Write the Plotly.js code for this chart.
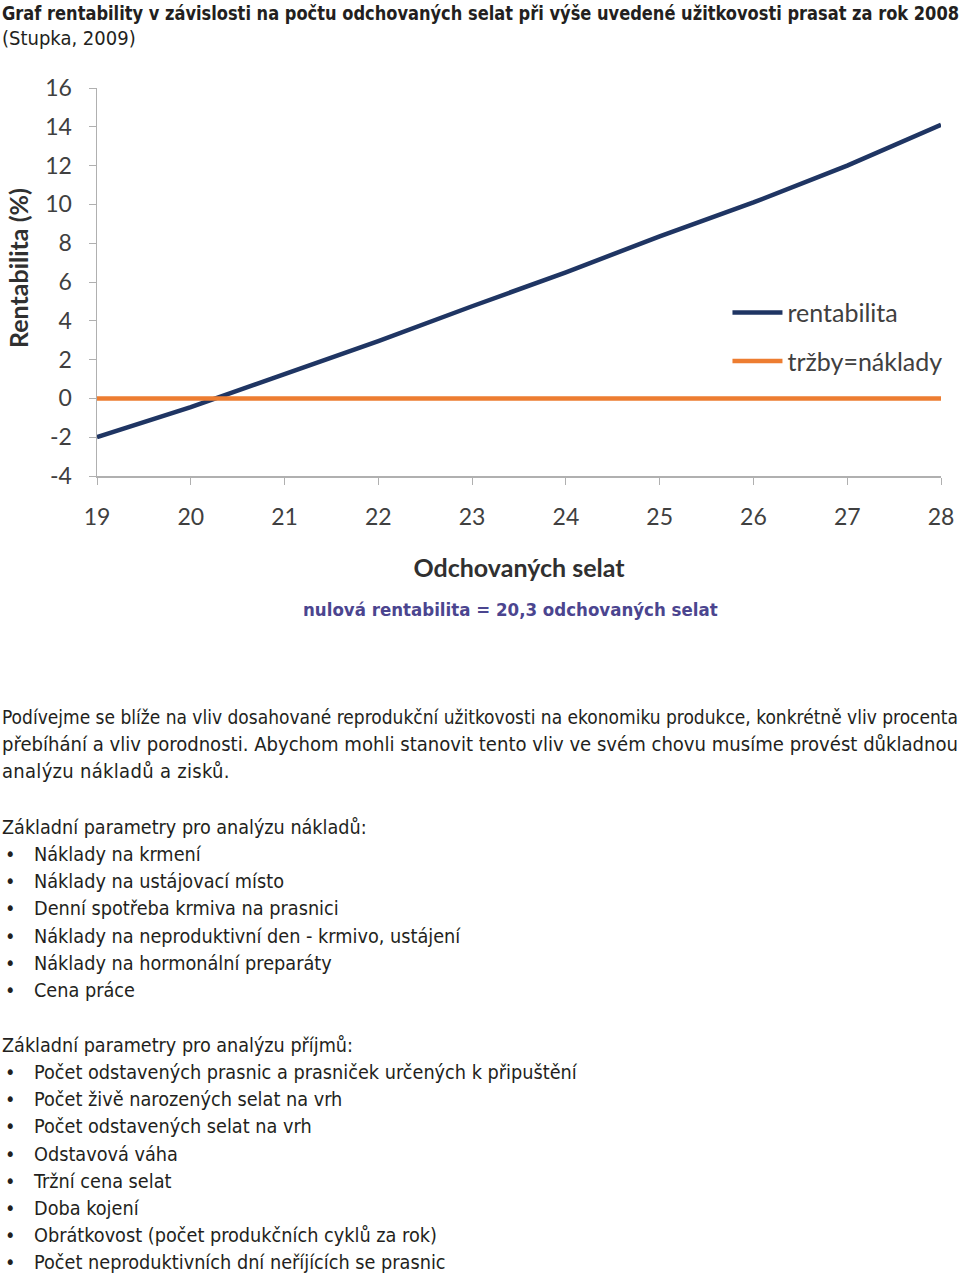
<!DOCTYPE html>
<html><head><meta charset="utf-8">
<script src="https://cdn.plot.ly/plotly-3.0.1.min.js"></script>
<style>
html,body{margin:0;padding:0;background:#fff;width:960px;height:1278px;overflow:hidden;}
body{position:relative;font-family:"DejaVu Sans Condensed","Liberation Sans Narrow",sans-serif;color:#231f20;}
.t{position:absolute;left:2px;white-space:nowrap;font-size:20px;line-height:27px;transform-origin:0 50%;}
#title1{top:0px;font-weight:bold;}
#title2{top:25px;}
ul{position:absolute;left:0;margin:0;padding:0;list-style:none;font-size:19.7px;line-height:27.2px;}
ul li{position:relative;padding-left:34px;white-space:nowrap;}
ul li:before{content:"•";position:absolute;left:5px;}
#chart{position:absolute;left:0;top:0;width:960px;height:640px;}
</style></head>
<body>
<div id="chart"></div>
<div class="t" id="title1" data-w="957">Graf rentability v závislosti na počtu odchovaných selat při výše uvedené užitkovosti prasat za rok 2008</div>
<div class="t" id="title2">(Stupka, 2009)</div>
<div class="t" style="top:704px" data-w="956">Podívejme se blíže na vliv dosahované reprodukční užitkovosti na ekonomiku produkce, konkrétně vliv procenta</div>
<div class="t" style="top:731px" data-w="956">přebíhání a vliv porodnosti. Abychom mohli stanovit tento vliv ve svém chovu musíme provést důkladnou</div>
<div class="t" style="top:758px;letter-spacing:0.3px">analýzu nákladů a zisků.</div>
<div class="t" style="top:814px;font-size:19.6px">Základní parametry pro analýzu nákladů:</div>
<ul id="l1" style="top:841px"></ul>
<div class="t" style="top:1032px;font-size:19.6px">Základní parametry pro analýzu příjmů:</div>
<ul id="l2" style="top:1059px"></ul>
<script>
// ---- data ----
const selata = [19, 20, 21, 22, 23, 24, 25, 26, 27, 28];
const rentabilita = [-2.0, -0.45, 1.25, 2.95, 4.75, 6.5, 8.35, 10.1, 12.0, 14.1];
const trzbyNaklady = [0, 0, 0, 0, 0, 0, 0, 0, 0, 0];
const yTicks = [-4, -2, 0, 2, 4, 6, 8, 10, 12, 14, 16];
const yTickText = ["-4", "-2", "0", "2", "4", "6", "8", "10", "12", "14", "16"];
const xTicks = [19, 20, 21, 22, 23, 24, 25, 26, 27, 28];
const nakladyItems = ["Náklady na krmení","Náklady na ustájovací místo","Denní spotřeba krmiva na prasnici","Náklady na neproduktivní den - krmivo, ustájení","Náklady na hormonální preparáty","Cena práce"];
const prijmyItems = ["Počet odstavených prasnic a prasniček určených k připuštění","Počet živě narozených selat na vrh","Počet odstavených selat na vrh","Odstavová váha","Tržní cena selat","Doba kojení","Obrátkovost (počet produkčních cyklů za rok)","Počet neproduktivních dní neříjících se prasnic"];

function fill(id, items){ const ul=document.getElementById(id); items.forEach(s=>{const li=document.createElement('li'); li.textContent=s; ul.appendChild(li);}); }
fill('l1', nakladyItems); fill('l2', prijmyItems);
document.querySelectorAll('[data-w]').forEach(el=>{
  const w = el.getBoundingClientRect().width;
  const target = parseFloat(el.getAttribute('data-w'));
  el.style.transform = 'scaleX(' + (target / w) + ')';
});

const chartFont = 'Lato, "Open Sans", sans-serif';
const traces = [
  {x: selata, y: rentabilita, type:'scatter', mode:'lines', name:'rentabilita', legendgroup:'a', line:{color:'#1f3563', width:4.5}},
  {x: selata, y: trzbyNaklady, type:'scatter', mode:'lines', name:'tržby=náklady', legendgroup:'b', line:{color:'#ed7d31', width:4.5}}
];
const layout = {
  width:960, height:640,
  margin:{l:97, r:19, t:88, b:164, autoexpand:false},
  paper_bgcolor:'rgba(0,0,0,0)', plot_bgcolor:'#fff',
  showlegend:true,
  legend:{x:0.747, y:0.48, xanchor:'left', yanchor:'top', bgcolor:'rgba(0,0,0,0)', traceorder:'grouped', tracegroupgap:13,
          font:{family:chartFont, size:25, color:'#404040'}, itemwidth:50},
  xaxis:{range:[19,28], tickvals:xTicks, ticks:'outside', ticklen:7, tickcolor:'#b0b0b0', showline:true, linecolor:'#b0b0b0', linewidth:1.5, showgrid:false, zeroline:false, ticklabelstandoff:13,
         tickfont:{family:chartFont, size:23, color:'#404040'},
         title:{text:'<b>Odchovaných selat</b>', font:{family:chartFont, size:25, color:'#303030'}, standoff:30}},
  yaxis:{range:[-4,16], tickvals:yTicks, ticktext:yTickText, ticks:'outside', ticklen:7, tickcolor:'#b0b0b0', showline:true, linecolor:'#b0b0b0', linewidth:1.5, showgrid:false, zeroline:false, ticklabelstandoff:12,
         tickfont:{family:chartFont, size:23, color:'#404040'}},
  annotations:[
    {text:'<b>Rentabilita (%)</b>', xref:'paper', yref:'paper', x:-0.0936, y:0.536, xanchor:'center', yanchor:'middle', textangle:-90, showarrow:false,
     font:{family:chartFont, size:25, color:'#303030'}},
    {text:'<b>nulová rentabilita = 20,3 odchovaných selat</b>', xref:'paper', yref:'paper', x:0.49, y:-0.343, xanchor:'center', yanchor:'middle', showarrow:false,
     font:{family:'"DejaVu Sans Condensed", sans-serif', size:18.5, color:'#4b458f'}}
  ]
};
Plotly.newPlot('chart', traces, layout, {staticPlot:true, displayModeBar:false});
</script>
</body></html>
